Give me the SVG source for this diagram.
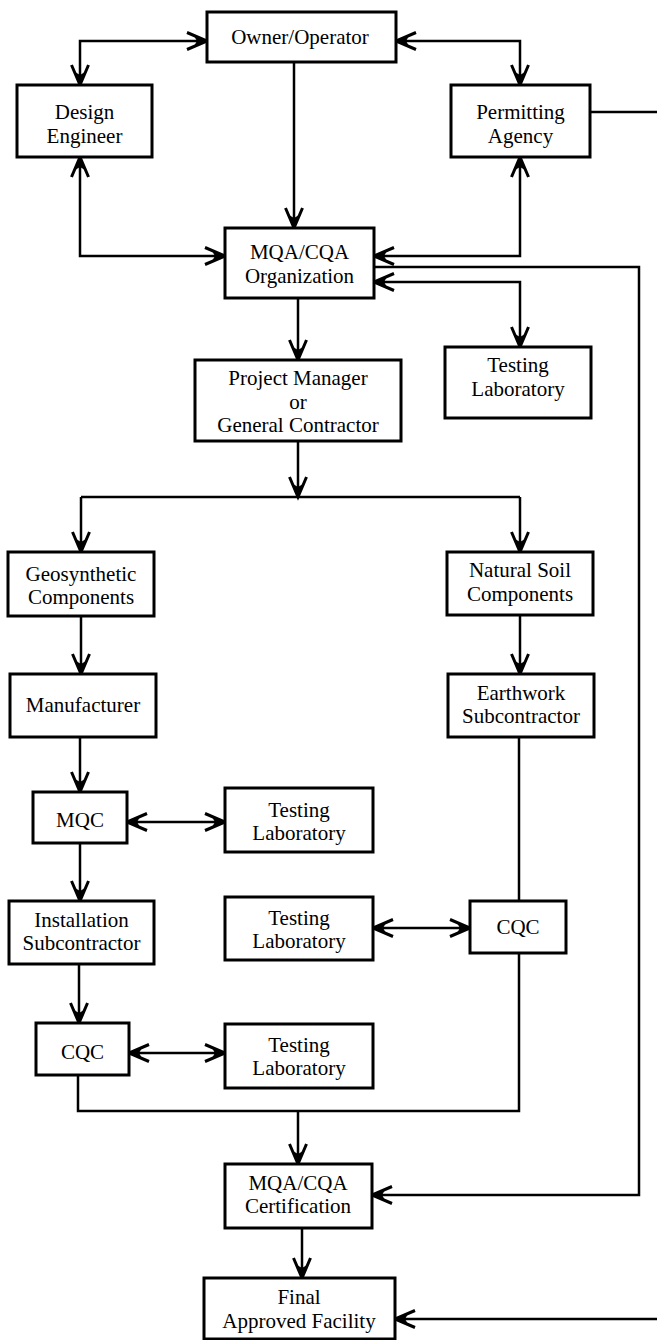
<svg xmlns="http://www.w3.org/2000/svg" width="657" height="1340" viewBox="0 0 657 1340">
<style>
.box{fill:#fff;stroke:#000;stroke-width:3}
.t{font-family:"Liberation Serif","Times New Roman",serif;font-size:21px;text-anchor:middle;fill:#000}
.c{fill:none;stroke:#000;stroke-width:2.5}
.a{marker-end:url(#ah)}
.b{marker-start:url(#ah);marker-end:url(#ah)}
</style>
<defs>
<marker id="ah" markerUnits="userSpaceOnUse" orient="auto-start-reverse" viewBox="-24 -12 26 24" markerWidth="26" markerHeight="24" refX="0" refY="0" overflow="visible">
<path d="M-20,-8.5 L0,0 L-20,8.5" fill="none" stroke="#000" stroke-width="3"/>
<path d="M0,0 L-13,-5 L-10,0 L-13,5 Z" fill="#000"/>
</marker>
</defs>
<rect width="657" height="1340" fill="#fff"/>
<g id="connectors">
<path class="c b" d="M207,41 H80 V85"/>
<path class="c b" d="M396,41 H520 V85"/>
<path class="c a" d="M294,62 V228"/>
<path class="c b" d="M80,157 V256 H225"/>
<path class="c b" d="M520,157 V256 H374"/>
<path class="c a" d="M374,267 H639 V1195 H372"/>
<path class="c b" d="M374,282 H520 V347"/>
<path class="c a" d="M298,298 V360"/>
<path class="c a" d="M298,441 V497"/>
<path class="c" d="M81,497 H520"/>
<path class="c a" d="M81,497 V552"/>
<path class="c a" d="M520,497 V552"/>
<path class="c a" d="M81,616 V674"/>
<path class="c a" d="M520,615 V674"/>
<path class="c a" d="M80,737 V792"/>
<path class="c b" d="M127,822 H225"/>
<path class="c a" d="M80,843 V901"/>
<path class="c b" d="M373,928 H470"/>
<path class="c" d="M519,737 V901"/>
<path class="c a" d="M79,964 V1023"/>
<path class="c b" d="M129,1053 H225"/>
<path class="c" d="M78,1075 V1111 H519 V953"/>
<path class="c a" d="M298,1111 V1164"/>
<path class="c a" d="M302,1228 V1278"/>
<path class="c" d="M590,112 H657"/>
<path class="c a" d="M657,1319 H395"/>
</g>
<g id="owner"><rect class="box" x="207" y="12" width="189" height="50"/><text class="t" x="300" y="44">Owner/Operator</text></g>
<g id="design"><rect class="box" x="17" y="85" width="135" height="72"/><text class="t" x="84.5" y="119">Design</text><text class="t" x="84.5" y="143">Engineer</text></g>
<g id="permitting"><rect class="box" x="451" y="85" width="139" height="72"/><text class="t" x="520.5" y="119">Permitting</text><text class="t" x="520.5" y="143">Agency</text></g>
<g id="mqa-org"><rect class="box" x="225" y="228" width="149" height="70"/><text class="t" x="299.5" y="259">MQA/CQA</text><text class="t" x="299.5" y="283">Organization</text></g>
<g id="testing-top"><rect class="box" x="445" y="347" width="146" height="71"/><text class="t" x="518" y="372">Testing</text><text class="t" x="518" y="396">Laboratory</text></g>
<g id="project-manager"><rect class="box" x="195" y="360" width="206" height="81"/><text class="t" x="298" y="385">Project Manager</text><text class="t" x="298" y="408.5">or</text><text class="t" x="298" y="432">General Contractor</text></g>
<g id="geosynthetic"><rect class="box" x="8" y="552" width="146" height="64"/><text class="t" x="81" y="580.5">Geosynthetic</text><text class="t" x="81" y="604">Components</text></g>
<g id="natural-soil"><rect class="box" x="447" y="552" width="146" height="63"/><text class="t" x="520" y="577">Natural Soil</text><text class="t" x="520" y="601">Components</text></g>
<g id="manufacturer"><rect class="box" x="10" y="674" width="146" height="63"/><text class="t" x="83" y="712">Manufacturer</text></g>
<g id="earthwork"><rect class="box" x="448" y="674" width="146" height="63"/><text class="t" x="521" y="699.5">Earthwork</text><text class="t" x="521" y="723">Subcontractor</text></g>
<g id="mqc"><rect class="box" x="33" y="792" width="94" height="51"/><text class="t" x="80" y="827">MQC</text></g>
<g id="testing-1"><rect class="box" x="225" y="788" width="148" height="64"/><text class="t" x="299" y="816.5">Testing</text><text class="t" x="299" y="840">Laboratory</text></g>
<g id="installation"><rect class="box" x="9" y="901" width="145" height="63"/><text class="t" x="81.5" y="926.5">Installation</text><text class="t" x="81.5" y="950">Subcontractor</text></g>
<g id="testing-2"><rect class="box" x="225" y="897" width="148" height="63"/><text class="t" x="299" y="924.5">Testing</text><text class="t" x="299" y="948">Laboratory</text></g>
<g id="cqc-right"><rect class="box" x="470" y="901" width="96" height="52"/><text class="t" x="518" y="934">CQC</text></g>
<g id="cqc-left"><rect class="box" x="36" y="1023" width="93" height="52"/><text class="t" x="82.5" y="1059">CQC</text></g>
<g id="testing-3"><rect class="box" x="225" y="1024" width="148" height="64"/><text class="t" x="299" y="1051.5">Testing</text><text class="t" x="299" y="1075">Laboratory</text></g>
<g id="certification"><rect class="box" x="225" y="1164" width="147" height="64"/><text class="t" x="298" y="1189.5">MQA/CQA</text><text class="t" x="298" y="1213">Certification</text></g>
<g id="final"><rect class="box" x="204" y="1278" width="191" height="61"/><text class="t" x="299" y="1304">Final</text><text class="t" x="299" y="1327.5">Approved Facility</text></g>
</svg>
